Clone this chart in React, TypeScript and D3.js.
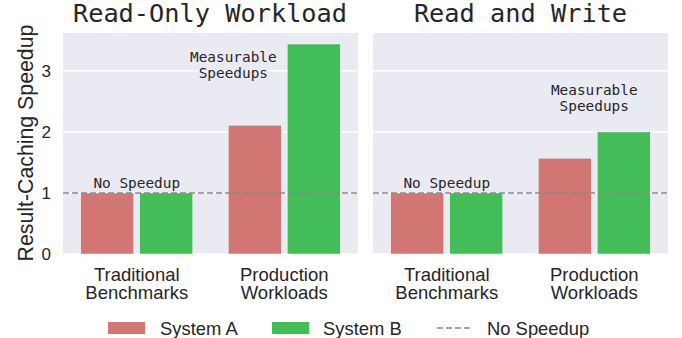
import React from 'react';
import * as d3 from 'd3';

const categories = ["Traditional Benchmarks", "Production Workloads"];
const panels = ["Read-Only Workload", "Read and Write"];
const systemA = [1.0, 2.11];
const systemB = [1.0, 3.44];
const systemA_rw = [1.0, 1.57];
const systemB_rw = [1.0, 2.0];
const yTicks = [0, 1, 2, 3];
const baseline = 1;

const width = 682;
const height = 338;
const top = 33;
const bottom = 254;
const panelX = [[63, 358], [373, 668]];
const colorA = "#d27674";
const colorB = "#43bd58";
const mono = "'DejaVu Sans Mono', monospace";
const sans = "'Liberation Sans', Arial, sans-serif";

function Panel(props: { idx: number; a: number[]; b: number[] }) {
    const [x0, x1] = panelX[props.idx];
    const yScale = d3.scaleLinear().domain([0, 3.62]).range([bottom, top]);
    // category index -> pixel, matplotlib style xlim [-0.5, 1.5]
    const xScale = d3.scaleLinear().domain([-0.5, 1.5]).range([x0, x1]);
    const bw = xScale(0.36) - xScale(0);
    const titleX = props.idx === 0 ? 210 : (x0 + x1) / 2;
    const noteX = props.idx === 0 ? xScale(0.655) : xScale(1.0);
    const noteY = props.idx === 0 ? 62 : 95;

    return (
        <g>
            <rect x={x0} y={top} width={x1 - x0} height={bottom - top} fill="#eaeaf2" />
            {yTicks.map(t => (
                <line key={t} x1={x0} x2={x1} y1={yScale(t)} y2={yScale(t)} stroke="#fff" strokeWidth={1.5} />
            ))}
            {categories.map((c, i) => (
                <g key={c}>
                    <rect x={xScale(i - 0.2) - bw / 2} y={yScale(props.a[i])} width={bw}
                          height={yScale(0) - yScale(props.a[i])} fill={colorA} stroke="#fff" strokeWidth={0.5} />
                    <rect x={xScale(i + 0.2) - bw / 2} y={yScale(props.b[i])} width={bw}
                          height={yScale(0) - yScale(props.b[i])} fill={colorB} stroke="#fff" strokeWidth={0.5} />
                    <text textAnchor="middle" fontFamily={sans} fontSize={18.5} fill="#262626">
                        <tspan x={xScale(i)} y={280.5}>{c.split(" ")[0]}</tspan>
                        <tspan x={xScale(i)} dy={18.5}>{c.split(" ")[1]}</tspan>
                    </text>
                </g>
            ))}
            <line x1={x0} x2={x1} y1={yScale(baseline)} y2={yScale(baseline)} stroke="#888" strokeWidth={1.6} strokeDasharray="6,3" />
            <text x={xScale(0)} y={188} textAnchor="middle" fontFamily={mono} fontSize={14.4} fill="#262626">No Speedup</text>
            <text textAnchor="middle" fontFamily={mono} fontSize={14.4} fill="#262626">
                <tspan x={noteX} y={noteY}>Measurable</tspan>
                <tspan x={noteX} dy={15.5}>Speedups</tspan>
            </text>
            {props.idx === 0 && yTicks.map(t => (
                <text key={t} x={51} y={yScale(t) + 6} textAnchor="end" fontFamily={sans} fontSize={17} fill="#262626">{t}</text>
            ))}
            <text x={titleX} y={22} textAnchor="middle" fontFamily={mono} fontSize={25.3} fill="#262626">{panels[props.idx]}</text>
        </g>
    );
}

export default function App() {
    return (
        <svg width={width} height={height} style={{ position: 'absolute', left: 0, top: 0, background: '#fff' }}>
            <Panel idx={0} a={systemA} b={systemB} />
            <Panel idx={1} a={systemA_rw} b={systemB_rw} />
            <text transform="translate(33,143) rotate(-90)" textAnchor="middle" fontFamily={sans} fontSize={21.3} fill="#262626">Result-Caching Speedup</text>
            {/* legend */}
            <rect x={108} y={322} width={37} height={12} fill={colorA} />
            <text x={160} y={335} fontFamily={sans} fontSize={18.4} fill="#262626">System A</text>
            <rect x={272} y={322} width={37} height={12} fill={colorB} />
            <text x={323} y={335} fontFamily={sans} fontSize={18.4} fill="#262626">System B</text>
            <line x1={437} x2={472} y1={328} y2={328} stroke="#888" strokeWidth={1.6} strokeDasharray="6,3" />
            <text x={487} y={335} fontFamily={sans} fontSize={18.4} fill="#262626">No Speedup</text>
        </svg>
    );
}
